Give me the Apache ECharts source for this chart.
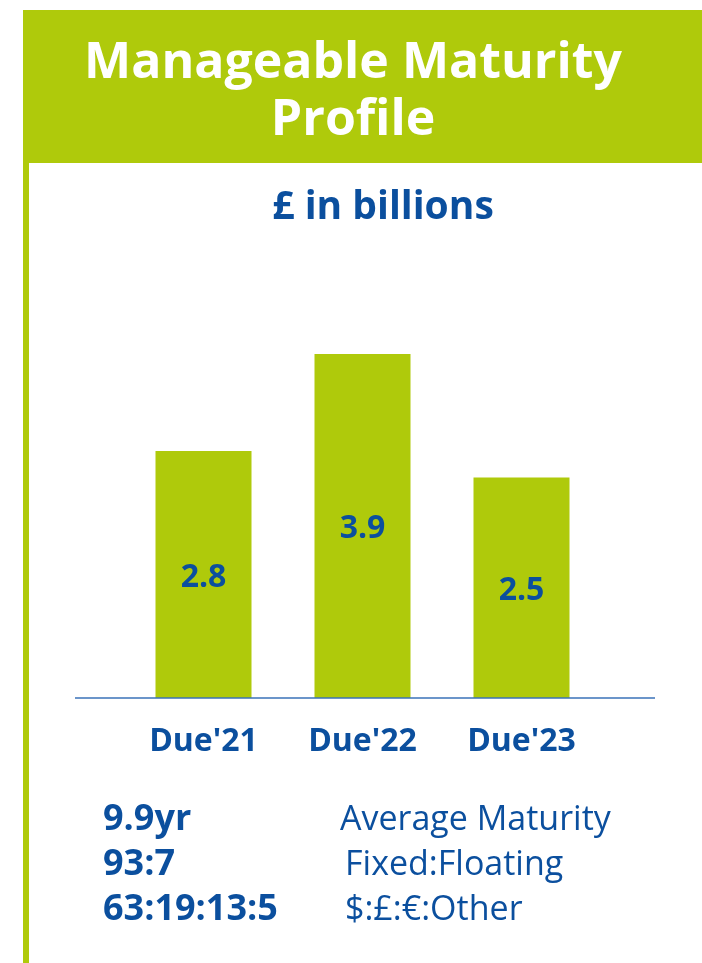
<!DOCTYPE html>
<html>
<head>
<meta charset="utf-8">
<script src="https://cdn.jsdelivr.net/npm/echarts@6/dist/echarts.min.js"></script>
<style>
html,body{margin:0;padding:0;background:#fff;}
#main{width:702px;height:963px;}
</style>
</head>
<body>
<div id="main"></div>
<script>
var titleLines = ['Manageable Maturity', 'Profile'];
var subtitle = '£ in billions';
var categories = ["Due'21", "Due'22", "Due'23"];
var values = [2.8, 3.9, 2.5];
var statValues = ['9.9yr', '93:7', '63:19:13:5'];
var statLabels = ['Average Maturity', 'Fixed:Floating', '$:£:€:Other'];

var GREEN = '#afca0b';
var BLUE = '#0b4f9e';
var FONT = '"Open Sans", sans-serif';

var chart = echarts.init(document.getElementById('main'), null, {renderer: 'canvas'});

var statY = [820, 865, 910];
var statLabelX = [340, 345, 345];

var graphics = [
  {type: 'rect', shape: {x: 23, y: 10, width: 679, height: 153}, style: {fill: GREEN}, z: 0},
  {type: 'rect', shape: {x: 23, y: 10, width: 6, height: 953}, style: {fill: GREEN}, z: 0},
  {type: 'text', x: 353, y: 64, style: {text: titleLines[0], fill: '#fff', font: 'bold 50px ' + FONT, textAlign: 'center', textVerticalAlign: 'middle'}, z: 5},
  {type: 'text', x: 353, y: 121, style: {text: titleLines[1], fill: '#fff', font: 'bold 50px ' + FONT, textAlign: 'center', textVerticalAlign: 'middle'}, z: 5},
  {type: 'text', x: 383, y: 208, style: {text: subtitle, fill: BLUE, font: 'bold 39px ' + FONT, textAlign: 'center', textVerticalAlign: 'middle'}, z: 5}
];
statValues.forEach(function (v, i) {
  graphics.push({type: 'text', x: 103, y: statY[i], style: {text: v, fill: BLUE, font: 'bold 36px ' + FONT, textAlign: 'left', textVerticalAlign: 'middle'}, z: 5});
  graphics.push({type: 'text', x: statLabelX[i], y: statY[i], style: {text: statLabels[i], fill: BLUE, font: '34px ' + FONT, textAlign: 'left', textVerticalAlign: 'middle'}, z: 5});
});

chart.setOption({
  animation: false,
  grid: {left: 124, width: 477, top: 301, bottom: 265, containLabel: false},
  xAxis: {
    type: 'category',
    data: categories,
    axisLine: {show: false},
    axisTick: {show: false},
    axisLabel: {color: BLUE, fontFamily: FONT, fontWeight: 'bold', fontSize: 32, margin: 28}
  },
  yAxis: {
    type: 'value', min: 0, max: 4.5, show: false,
    splitLine: {show: false}
  },
  series: [{
    type: 'bar',
    data: values,
    barWidth: 96,
    itemStyle: {color: GREEN},
    label: {show: true, position: 'inside', offset: [0, 3], color: BLUE, fontFamily: FONT, fontWeight: 'bold', fontSize: 32}
  }],
  graphic: graphics
});

var baseY = chart.convertToPixel({yAxisIndex: 0}, 0);
graphics.push({type: 'line', shape: {x1: 75, y1: baseY, x2: 655, y2: baseY}, style: {stroke: '#3a72b8', lineWidth: 1.5}, z: 10});
chart.setOption({graphic: graphics});
</script>
</body>
</html>
